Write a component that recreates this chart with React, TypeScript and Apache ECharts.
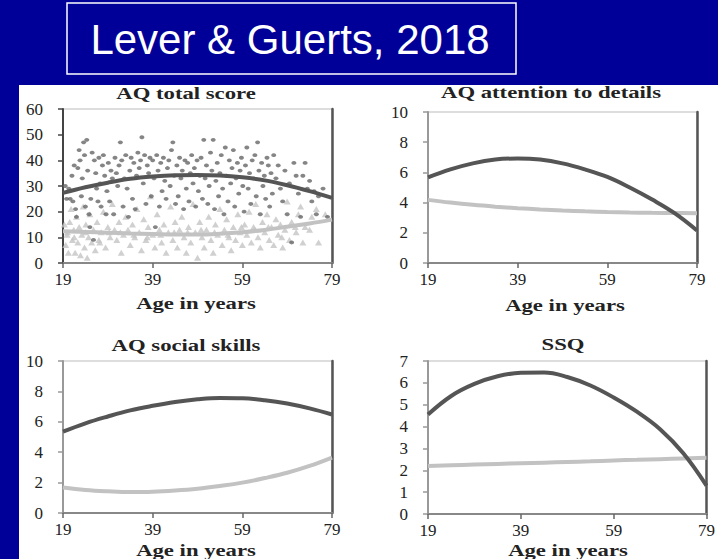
import React, { useEffect, useRef } from "react";
import * as echarts from "echarts";

const AGE_TICKS = [19, 39, 59, 79];
const CURVE_AGES = [19, 24, 29, 34, 39, 44, 49, 54, 59, 64, 69, 74, 79];

const TOTAL_HIGH = [27.3, 29.5, 31.3, 32.8, 33.7, 34.2, 34.3, 34.1, 33.4, 32.2, 30.3, 28.0, 25.4];
const TOTAL_LOW = [12.4, 12.1, 11.8, 11.5, 11.3, 11.1, 11.1, 11.4, 12.0, 12.9, 14.1, 15.4, 16.9];
const DETAIL_HIGH = [5.67, 6.2, 6.6, 6.85, 6.92, 6.85, 6.6, 6.2, 5.7, 5.0, 4.2, 3.3, 2.15];
const DETAIL_LOW = [4.18, 4.0, 3.85, 3.73, 3.63, 3.55, 3.48, 3.42, 3.37, 3.34, 3.32, 3.31, 3.3];
const SOCIAL_HIGH = [5.35, 5.9, 6.35, 6.75, 7.05, 7.3, 7.48, 7.57, 7.55, 7.42, 7.2, 6.88, 6.48];
const SOCIAL_LOW = [1.68, 1.52, 1.43, 1.38, 1.4, 1.48, 1.6, 1.78, 2.0, 2.3, 2.65, 3.1, 3.65];
const SSQ_HIGH = [4.55, 5.4, 5.95, 6.3, 6.46, 6.47, 6.27, 5.88, 5.33, 4.68, 3.88, 2.78, 1.3];
const SSQ_LOW = [2.2, 2.23, 2.26, 2.29, 2.32, 2.35, 2.38, 2.41, 2.45, 2.48, 2.51, 2.54, 2.57];

// AQ total score, individual scores (age, score)
const TOTAL_DOTS = [
  [19.5, 30], [19.8, 25], [20.3, 29], [20.6, 25], [21.0, 34], [21.2, 24], [21.5, 38], [21.8, 21], [22.0, 18], [22.3, 37],
  [22.6, 44], [22.8, 40], [23.1, 26], [23.3, 33], [23.6, 47], [23.8, 42], [24.0, 22], [24.3, 48], [24.5, 36], [24.8, 19],
  [25.0, 14], [25.2, 25], [25.5, 43], [25.8, 9], [26.0, 40], [26.3, 35], [26.5, 29], [26.8, 24], [27.0, 41], [27.3, 31],
  [27.5, 22], [27.8, 38], [28.0, 42], [28.3, 34], [28.6, 19], [28.8, 28], [29.1, 39], [29.4, 24], [29.7, 36], [30.0, 33],
  [30.3, 19], [30.6, 41], [30.9, 35], [31.2, 30], [31.5, 38], [31.8, 47], [32.1, 40], [32.4, 22], [32.7, 33], [33.0, 42],
  [33.3, 29], [33.6, 18], [33.9, 36], [34.2, 41], [34.5, 25], [34.8, 39], [35.1, 21], [35.4, 34], [35.7, 43], [36.0, 37],
  [36.3, 40], [36.6, 49], [36.9, 31], [37.2, 42], [37.5, 23], [37.8, 38], [38.1, 35], [38.4, 41], [38.7, 26], [39.0, 40],
  [39.3, 33], [39.6, 14], [39.9, 42], [40.2, 36], [40.5, 22], [40.8, 39], [41.1, 28], [41.4, 41], [41.7, 32], [42.0, 25],
  [42.3, 37], [42.6, 40], [42.9, 30], [43.2, 44], [43.5, 47], [43.8, 34], [44.1, 23], [44.4, 38], [44.7, 26], [45.0, 41],
  [45.3, 33], [45.6, 36], [45.9, 21], [46.2, 40], [46.5, 29], [46.8, 39], [47.1, 24], [47.4, 35], [47.7, 42], [48.0, 31],
  [48.3, 37], [48.6, 22], [48.9, 40], [49.2, 28], [49.5, 34], [49.8, 41], [50.1, 25], [50.4, 48], [50.7, 33], [51.0, 38],
  [51.3, 23], [51.6, 30], [51.9, 43], [52.2, 36], [52.5, 48], [52.8, 21], [53.1, 32], [53.4, 39], [53.7, 26], [54.0, 35],
  [54.3, 42], [54.6, 29], [54.9, 19], [55.2, 45], [55.5, 34], [55.8, 24], [56.1, 40], [56.4, 31], [56.7, 37], [57.0, 44],
  [57.3, 22], [57.6, 33], [57.9, 39], [58.2, 27], [58.5, 36], [58.8, 41], [59.1, 30], [59.4, 20], [59.7, 38], [60.0, 45],
  [60.3, 29], [60.6, 35], [60.9, 23], [61.2, 40], [61.5, 33], [61.8, 42], [62.1, 26], [62.4, 47], [62.7, 36], [63.0, 19],
  [63.3, 39], [63.6, 30], [63.9, 34], [64.2, 25], [64.5, 41], [64.8, 38], [65.1, 22], [65.4, 35], [65.7, 27], [66.0, 42],
  [66.5, 33], [67.0, 38], [67.5, 29], [68.0, 24], [68.5, 36], [69.0, 19], [69.5, 31], [70.0, 8], [70.5, 39], [71.0, 34],
  [71.5, 27], [72.0, 18], [72.5, 34], [73.0, 39], [73.5, 29], [74.0, 32], [74.5, 24], [75.0, 28], [75.5, 19], [76.0, 26],
  [77.0, 29], [78.0, 18],
];

const TOTAL_TRIANGLES = [
  [19.3, 15], [19.6, 7], [19.9, 11], [20.2, 4], [20.5, 16], [20.8, 21], [21.1, 9], [21.4, 13], [21.7, 4], [22.0, 18],
  [22.3, 8], [22.6, 14], [22.9, 3], [23.2, 11], [23.5, 22], [23.8, 6], [24.1, 15], [24.4, 2], [24.7, 10], [25.0, 19],
  [25.4, 8], [25.8, 13], [26.2, 5], [26.6, 16], [27.0, 9], [27.5, 12], [28.0, 20], [28.5, 6], [29.0, 14], [29.5, 10],
  [30.0, 23], [30.5, 13], [31.0, 9], [31.5, 16], [32.0, 4], [32.5, 11], [33.0, 18], [33.5, 13], [34.0, 7], [34.5, 15],
  [35.0, 10], [35.5, 21], [36.0, 12], [36.5, 5], [37.0, 17], [37.5, 9], [38.0, 14], [38.5, 26], [39.0, 11], [39.5, 6],
  [40.0, 19], [40.5, 13], [41.0, 8], [41.5, 15], [42.0, 4], [42.5, 12], [43.0, 22], [43.5, 9], [44.0, 16], [44.5, 6],
  [45.0, 13], [45.5, 18], [46.0, 10], [46.5, 4], [47.0, 14], [47.5, 8], [48.0, 23], [48.5, 12], [49.0, 2], [49.5, 16],
  [50.0, 10], [50.5, 6], [51.0, 13], [51.5, 18], [52.0, 9], [52.5, 4], [53.0, 15], [53.5, 11], [54.0, 21], [54.5, 7],
  [55.0, 13], [55.5, 17], [56.0, 10], [56.5, 5], [57.0, 14], [57.5, 9], [58.0, 19], [58.5, 12], [59.0, 7], [59.5, 15],
  [60.0, 11], [60.5, 20], [61.0, 8], [61.5, 14], [62.0, 23], [62.5, 10], [63.0, 6], [63.5, 16], [64.0, 12], [64.5, 19],
  [65.0, 9], [65.5, 14], [66.0, 7], [66.5, 17], [67.0, 11], [67.5, 15], [68.0, 6], [68.5, 13], [69.0, 24], [69.5, 9],
  [70.0, 16], [71.0, 12], [71.5, 19], [72.0, 22], [72.5, 8], [73.0, 14], [74.0, 13], [74.5, 18], [75.5, 21], [76.0, 8],
  [77.5, 19], [20.0, 12], [21.5, 10], [24.0, 12], [27.2, 8], [29.3, 12], [31.8, 12], [34.8, 11], [37.8, 10], [40.8, 11],
  [43.8, 12], [46.8, 12], [49.8, 13], [52.8, 12], [55.8, 11], [58.8, 14], [61.8, 13], [64.8, 14], [67.8, 10], [70.8, 14],
];

const TITLE_TEXT = "Lever & Guerts, 2018";
const PANEL_TITLES = ["AQ total score", "AQ attention to details", "AQ social skills", "SSQ"];
const X_AXIS_NAME = "Age in years";
const Y_MAXES = [60, 10, 10, 7];
const Y_INTERVALS = [10, 2, 2, 1];

const SERIF = "Liberation Serif";
const DARK = "#555555";
const LIGHT = "#c2c2c2";

export default function App() {
  const ref = useRef<HTMLDivElement>(null);

  useEffect(() => {
    if (!ref.current) return;
    const chart = echarts.init(ref.current, null, { renderer: "svg" });

    const grids = [
      { left: 63, top: 109, width: 269, height: 154 },
      { left: 428, top: 112, width: 269, height: 151 },
      { left: 63, top: 361, width: 269, height: 152 },
      { left: 428, top: 361, width: 280, height: 153 },
    ];
    const leftAxisColors = ["#444", "#999", "#999", "#999"];
    const labelStyle = { fontSize: 17, fontFamily: SERIF, fontWeight: "normal", color: "#222" };

    const xAxis = grids.map((_, i) => ({
      type: "value",
      gridIndex: i,
      min: 19,
      max: 79,
      axisLine: { show: true, lineStyle: { color: "#888", width: 2 } },
      axisTick: { show: true, customValues: AGE_TICKS, length: 5, lineStyle: { color: "#666", width: 1.5 } },
      axisLabel: { customValues: AGE_TICKS, margin: 8, ...labelStyle },
      splitLine: { show: false },
    }));

    const yLeft = grids.map((_, i) => ({
      type: "value",
      gridIndex: i,
      min: 0,
      max: Y_MAXES[i],
      interval: Y_INTERVALS[i],
      position: "left",
      axisLine: { show: true, lineStyle: { color: leftAxisColors[i], width: 2 } },
      axisTick: { show: true, length: 5, lineStyle: { color: leftAxisColors[i], width: 1.5 } },
      axisLabel: { margin: 20, ...labelStyle },
      splitLine: { show: false },
    }));
    const yRight = grids.map((_, i) => ({
      type: "value",
      gridIndex: i,
      min: 0,
      max: Y_MAXES[i],
      position: "right",
      axisLine: { show: true, lineStyle: { color: "#555", width: 2.5 } },
      axisTick: { show: false },
      axisLabel: { show: false },
      splitLine: { show: false },
    }));

    const toPairs = (arr: number[]) => CURVE_AGES.map((a, k) => [a, arr[k]]);
    const line = (i: number, arr: number[], color: string) => ({
      type: "line",
      xAxisIndex: i,
      yAxisIndex: i,
      data: toPairs(arr),
      smooth: 0.4,
      showSymbol: false,
      lineStyle: { color, width: 4 },
      z: 5,
    });

    const series: any[] = [
      {
        type: "scatter",
        xAxisIndex: 0,
        yAxisIndex: 0,
        data: TOTAL_TRIANGLES,
        symbol: "triangle",
        symbolSize: [7, 6],
        itemStyle: { color: "#c4c4c4" },
        z: 2,
      },
      {
        type: "scatter",
        xAxisIndex: 0,
        yAxisIndex: 0,
        data: TOTAL_DOTS,
        symbol: "circle",
        symbolSize: [5, 3.8],
        itemStyle: { color: "#666666" },
        z: 3,
      },
      line(0, TOTAL_LOW, LIGHT),
      line(0, TOTAL_HIGH, DARK),
      line(1, DETAIL_LOW, LIGHT),
      line(1, DETAIL_HIGH, DARK),
      line(2, SOCIAL_LOW, LIGHT),
      line(2, SOCIAL_HIGH, DARK),
      line(3, SSQ_LOW, LIGHT),
      line(3, SSQ_HIGH, DARK),
    ];

    const boldText = (text: string, x: number, y: number) => ({
      type: "text",
      x,
      y,
      scaleX: 1.42,
      z: 10,
      style: {
        text,
        fontSize: 16,
        fontWeight: "bold",
        fontFamily: SERIF,
        fill: "#222",
        align: "center",
        verticalAlign: "middle",
        textAlign: "center",
        textVerticalAlign: "middle",
      },
    });

    const titlePos = [
      [186, 93],
      [551, 92],
      [186, 345],
      [563, 344],
    ];
    const axisNamePos = [
      [196, 303],
      [565, 305],
      [196, 550],
      [568, 550],
    ];

    const graphic: any[] = [
      { type: "rect", shape: { x: 0, y: 0, width: 718, height: 85 }, style: { fill: "#000099" }, z: 0 },
      { type: "rect", shape: { x: 0, y: 0, width: 19, height: 559 }, style: { fill: "#000099" }, z: 0 },
      {
        type: "rect",
        shape: { x: 67, y: 3, width: 449, height: 71 },
        style: { fill: "none", stroke: "#ffffff", lineWidth: 1.5 },
        z: 1,
      },
      {
        type: "text",
        x: 290,
        y: 39,
        z: 2,
        style: {
          text: TITLE_TEXT,
          fontSize: 42,
          fontFamily: "Liberation Sans",
          fill: "#ffffff",
          align: "center",
          verticalAlign: "middle",
          textAlign: "center",
          textVerticalAlign: "middle",
        },
      },
      ...PANEL_TITLES.map((t, i) => boldText(t, titlePos[i][0], titlePos[i][1])),
      ...axisNamePos.map((p) => boldText(X_AXIS_NAME, p[0], p[1])),
    ];

    chart.setOption({
      animation: false,
      backgroundColor: "#ffffff",
      textStyle: { fontFamily: SERIF },
      grid: grids.map((g) => ({ ...g, show: true, borderColor: "#bbb", borderWidth: 1, backgroundColor: "transparent" })),
      xAxis,
      yAxis: [...yLeft, ...yRight],
      series,
      graphic,
    });

    return () => chart.dispose();
  }, []);

  return (
    <div
      ref={ref}
      style={{ position: "fixed", left: 0, top: 0, width: 718, height: 559 }}
    />
  );
}
